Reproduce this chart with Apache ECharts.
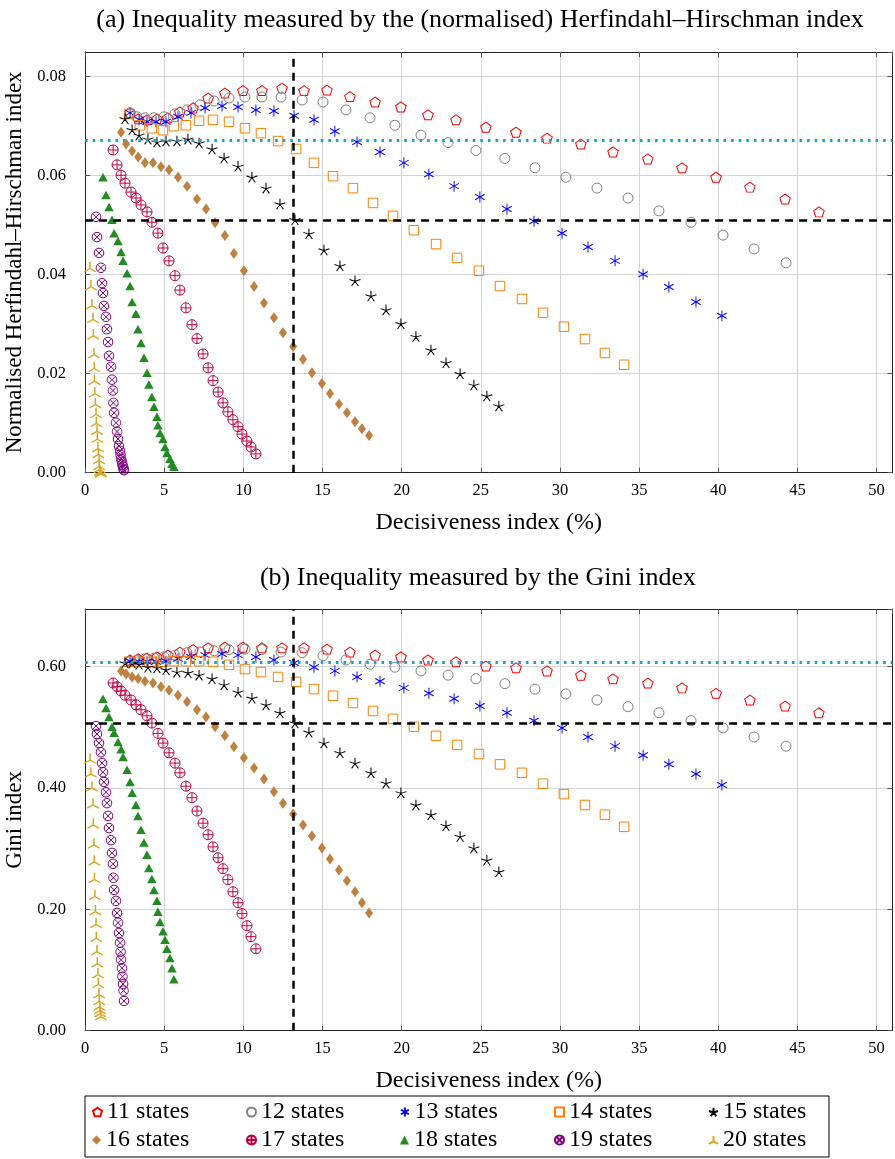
<!DOCTYPE html>
<html>
<head>
<meta charset="utf-8">
<script src="https://cdn.jsdelivr.net/npm/echarts@6/dist/echarts.min.js"></script>
<style>
  html, body { margin: 0; padding: 0; background: #fff; }
  #chart { width: 895px; height: 1159px; }
</style>
</head>
<body>
<div id="chart"></div>
<script>
// decisiveness index (%), normalised HHI and Gini, one set per number of states
const dec11 = [2.84, 3.35, 3.91, 4.54, 5.23, 5.99, 6.82, 7.77, 8.83, 9.97, 11.17, 12.44, 13.83, 15.28, 16.73, 18.32, 19.95, 21.66, 23.43, 25.32, 27.22, 29.18, 31.32, 33.35, 35.55, 37.71, 39.86, 42.00, 44.22, 46.36];
const hhi11 = [0.0727, 0.0715, 0.0713, 0.0715, 0.0717, 0.0729, 0.0737, 0.0757, 0.0767, 0.0772, 0.0772, 0.0777, 0.0772, 0.0773, 0.0760, 0.0749, 0.0739, 0.0723, 0.0713, 0.0698, 0.0688, 0.0676, 0.0664, 0.0648, 0.0634, 0.0616, 0.0597, 0.0577, 0.0553, 0.0527];
const gini11 = [0.611, 0.613, 0.614, 0.616, 0.619, 0.624, 0.628, 0.631, 0.632, 0.632, 0.631, 0.631, 0.631, 0.629, 0.624, 0.619, 0.616, 0.611, 0.608, 0.601, 0.598, 0.593, 0.586, 0.580, 0.573, 0.565, 0.556, 0.545, 0.535, 0.524];

const dec12 = [2.84, 3.28, 3.78, 4.35, 4.98, 5.68, 6.44, 7.26, 8.15, 9.09, 10.10, 11.17, 12.38, 13.71, 15.03, 16.48, 18.00, 19.57, 21.22, 22.93, 24.69, 26.52, 28.42, 30.37, 32.34, 34.30, 36.25, 38.28, 40.30, 42.26, 44.28];
const hhi12 = [0.0727, 0.0719, 0.0717, 0.0717, 0.0719, 0.0725, 0.0733, 0.0743, 0.0751, 0.0757, 0.0759, 0.0759, 0.0759, 0.0753, 0.0749, 0.0733, 0.0717, 0.0702, 0.0682, 0.0667, 0.0651, 0.0635, 0.0616, 0.0597, 0.0575, 0.0555, 0.0529, 0.0506, 0.0480, 0.0452, 0.0424];
const gini12 = [0.609, 0.611, 0.613, 0.614, 0.616, 0.619, 0.623, 0.624, 0.626, 0.628, 0.629, 0.628, 0.624, 0.623, 0.618, 0.611, 0.604, 0.599, 0.593, 0.586, 0.580, 0.572, 0.563, 0.555, 0.545, 0.534, 0.524, 0.511, 0.499, 0.484, 0.469];

const dec13 = [2.84, 3.41, 3.91, 4.48, 5.11, 5.87, 6.69, 7.58, 8.65, 9.66, 10.79, 11.93, 13.20, 14.46, 15.78, 17.18, 18.63, 20.14, 21.72, 23.31, 24.94, 26.65, 28.36, 30.13, 31.77, 33.48, 35.25, 36.88, 38.59, 40.23];
const hhi13 = [0.0727, 0.0713, 0.0709, 0.0709, 0.0709, 0.0719, 0.0727, 0.0737, 0.0741, 0.0739, 0.0733, 0.0731, 0.0721, 0.0713, 0.0690, 0.0668, 0.0648, 0.0626, 0.0603, 0.0579, 0.0557, 0.0533, 0.0508, 0.0484, 0.0456, 0.0428, 0.0401, 0.0375, 0.0345, 0.0317];
const gini13 = [0.609, 0.608, 0.608, 0.608, 0.609, 0.613, 0.616, 0.619, 0.621, 0.619, 0.616, 0.611, 0.606, 0.599, 0.593, 0.583, 0.576, 0.565, 0.556, 0.547, 0.535, 0.524, 0.511, 0.499, 0.484, 0.469, 0.454, 0.439, 0.423, 0.405];

const dec14 = [2.78, 3.46, 4.22, 4.92, 5.61, 6.37, 7.20, 8.08, 9.09, 10.10, 11.11, 12.19, 13.33, 14.46, 15.66, 16.92, 18.19, 19.45, 20.77, 22.17, 23.50, 24.88, 26.21, 27.60, 28.93, 30.25, 31.58, 32.84, 34.05];
const hhi14 = [0.0725, 0.0702, 0.0696, 0.0692, 0.0700, 0.0702, 0.0711, 0.0713, 0.0709, 0.0696, 0.0686, 0.0670, 0.0654, 0.0626, 0.0599, 0.0575, 0.0545, 0.0519, 0.0490, 0.0462, 0.0434, 0.0408, 0.0377, 0.0351, 0.0323, 0.0295, 0.0270, 0.0242, 0.0218];
const gini14 = [0.608, 0.608, 0.608, 0.608, 0.609, 0.609, 0.609, 0.608, 0.603, 0.596, 0.591, 0.583, 0.575, 0.563, 0.552, 0.540, 0.527, 0.514, 0.501, 0.486, 0.471, 0.456, 0.439, 0.425, 0.407, 0.390, 0.372, 0.356, 0.336];

const dec15 = [2.52, 2.97, 3.41, 3.97, 4.54, 5.11, 5.80, 6.50, 7.20, 8.02, 8.78, 9.66, 10.54, 11.43, 12.31, 13.26, 14.14, 15.09, 16.10, 17.05, 18.06, 19.01, 19.95, 20.90, 21.85, 22.80, 23.69, 24.56, 25.38, 26.14];
const hhi15 = [0.0715, 0.0693, 0.0682, 0.0674, 0.0668, 0.0670, 0.0670, 0.0674, 0.0666, 0.0654, 0.0636, 0.0619, 0.0597, 0.0575, 0.0543, 0.0511, 0.0483, 0.0450, 0.0418, 0.0388, 0.0357, 0.0329, 0.0301, 0.0275, 0.0248, 0.0222, 0.0200, 0.0177, 0.0155, 0.0135];
const gini15 = [0.606, 0.606, 0.604, 0.599, 0.598, 0.595, 0.591, 0.590, 0.586, 0.580, 0.570, 0.558, 0.548, 0.537, 0.524, 0.507, 0.492, 0.474, 0.458, 0.441, 0.425, 0.408, 0.392, 0.372, 0.356, 0.338, 0.320, 0.301, 0.281, 0.262];

const dec16 = [2.27, 2.59, 2.97, 3.35, 3.78, 4.29, 4.79, 5.30, 5.87, 6.44, 7.07, 7.64, 8.21, 8.83, 9.40, 10.03, 10.67, 11.30, 11.93, 12.50, 13.14, 13.77, 14.33, 14.96, 15.47, 16.04, 16.54, 17.05, 17.49, 17.94];
const hhi16 = [0.0688, 0.0664, 0.0650, 0.0638, 0.0626, 0.0626, 0.0618, 0.0612, 0.0597, 0.0579, 0.0553, 0.0533, 0.0505, 0.0479, 0.0443, 0.0408, 0.0376, 0.0343, 0.0313, 0.0283, 0.0255, 0.0229, 0.0202, 0.0180, 0.0160, 0.0139, 0.0121, 0.0103, 0.0089, 0.0075];
const gini16 = [0.593, 0.588, 0.583, 0.580, 0.576, 0.573, 0.567, 0.561, 0.553, 0.542, 0.529, 0.517, 0.501, 0.486, 0.468, 0.450, 0.433, 0.415, 0.394, 0.375, 0.357, 0.339, 0.321, 0.301, 0.283, 0.265, 0.247, 0.229, 0.211, 0.194];

const dec17 = [1.77, 2.02, 2.27, 2.52, 2.90, 3.22, 3.53, 3.91, 4.22, 4.60, 4.92, 5.30, 5.68, 5.99, 6.37, 6.75, 7.07, 7.45, 7.77, 8.08, 8.40, 8.71, 9.02, 9.34, 9.66, 9.91, 10.22, 10.48, 10.79];
const hhi17 = [0.0652, 0.0622, 0.0601, 0.0585, 0.0567, 0.0555, 0.0541, 0.0527, 0.0506, 0.0484, 0.0454, 0.0428, 0.0398, 0.0369, 0.0333, 0.0299, 0.0271, 0.0240, 0.0212, 0.0186, 0.0163, 0.0141, 0.0123, 0.0107, 0.0093, 0.0078, 0.0064, 0.0052, 0.0038];
const gini17 = [0.573, 0.567, 0.560, 0.553, 0.545, 0.537, 0.529, 0.519, 0.507, 0.490, 0.474, 0.458, 0.441, 0.425, 0.403, 0.384, 0.362, 0.342, 0.323, 0.303, 0.285, 0.267, 0.249, 0.229, 0.211, 0.193, 0.173, 0.155, 0.135];

const dec18 = [1.13, 1.32, 1.51, 1.70, 1.83, 2.08, 2.27, 2.40, 2.65, 2.84, 2.97, 3.21, 3.34, 3.53, 3.72, 3.91, 4.03, 4.22, 4.35, 4.54, 4.60, 4.73, 4.92, 5.05, 5.17, 5.36, 5.49, 5.61];
const hhi18 = [0.0597, 0.0561, 0.0537, 0.0511, 0.0484, 0.0468, 0.0446, 0.0428, 0.0403, 0.0377, 0.0345, 0.0321, 0.0290, 0.0262, 0.0232, 0.0202, 0.0178, 0.0153, 0.0133, 0.0113, 0.0096, 0.0080, 0.0068, 0.0052, 0.0040, 0.0028, 0.0018, 0.0012];
const gini18 = [0.547, 0.532, 0.517, 0.501, 0.491, 0.476, 0.464, 0.451, 0.430, 0.410, 0.392, 0.372, 0.354, 0.331, 0.310, 0.290, 0.268, 0.250, 0.232, 0.214, 0.196, 0.179, 0.164, 0.150, 0.135, 0.120, 0.103, 0.085];

const dec19 = [0.69, 0.75, 0.88, 1.00, 1.07, 1.13, 1.19, 1.32, 1.38, 1.45, 1.51, 1.64, 1.70, 1.76, 1.79, 1.83, 1.95, 2.02, 2.08, 2.14, 2.21, 2.24, 2.27, 2.33, 2.36, 2.40, 2.43, 2.46];
const hhi19 = [0.0517, 0.0476, 0.0444, 0.0414, 0.0383, 0.0363, 0.0337, 0.0315, 0.0290, 0.0264, 0.0236, 0.0214, 0.0188, 0.0166, 0.0141, 0.0121, 0.0101, 0.0083, 0.0068, 0.0054, 0.0044, 0.0036, 0.0028, 0.0022, 0.0016, 0.0012, 0.0007, 0.0005];
const gini19 = [0.502, 0.489, 0.474, 0.459, 0.441, 0.426, 0.410, 0.393, 0.375, 0.354, 0.334, 0.314, 0.293, 0.275, 0.252, 0.232, 0.214, 0.194, 0.178, 0.161, 0.145, 0.130, 0.117, 0.103, 0.089, 0.077, 0.066, 0.049];

const dec20 = [0.31, 0.37, 0.43, 0.50, 0.52, 0.56, 0.58, 0.59, 0.62, 0.65, 0.69, 0.71, 0.75, 0.77, 0.81, 0.83, 0.88, 0.89, 0.91, 0.94, 0.96, 1.00];
const hhi20 = [0.0416, 0.0379, 0.0341, 0.0313, 0.0280, 0.0242, 0.0214, 0.0188, 0.0163, 0.0141, 0.0121, 0.0103, 0.0087, 0.0071, 0.0052, 0.0040, 0.0028, 0.0016, 0.0010, 0.0005, 0.0003, 0.0001];
const gini20 = [0.449, 0.426, 0.403, 0.375, 0.342, 0.309, 0.281, 0.252, 0.224, 0.199, 0.178, 0.155, 0.133, 0.113, 0.095, 0.079, 0.062, 0.051, 0.042, 0.036, 0.031, 0.026];

// reference lines
const refDec = 13.13;
const refHhiBlack = 0.0511, refHhiCyan = 0.0672;
const refGiniBlack = 0.507, refGiniCyan = 0.607;

const xTickStep = 5;
const hhiTickStep = 0.02;
const giniTickStep = 0.2;

// marker shapes (pgfplots-like)
const ring = (function () {
  let s = '';
  for (let i = 0; i < 28; i++) {
    const a = i / 28 * 2 * Math.PI;
    s += (i ? 'L' : 'M') + Math.cos(a).toFixed(3) + ',' + Math.sin(a).toFixed(3);
  }
  return s + 'Z';
})();
const marks = {
  pentagon: 'path://M0,-1L0.951,-0.309L0.588,0.809L-0.588,0.809L-0.951,-0.309Z',
  asterisk: 'path://M0,-1L0,1M-0.866,-0.5L0.866,0.5M-0.866,0.5L0.866,-0.5',
  star: 'path://M0,0L0,-1M0,0L0.951,-0.309M0,0L0.588,0.809M0,0L-0.588,0.809M0,0L-0.951,-0.309',
  oplus: 'path://' + ring + 'M-1,0L1,0M0,-1L0,1',
  otimes: 'path://' + ring + 'M-0.707,-0.707L0.707,0.707M-0.707,0.707L0.707,-0.707',
  tri: 'path://M0,0L0,-1M0,0L-0.866,0.5M0,0L0.866,0.5'
};

const groups = [
  { name: '11 states', dec: dec11, hhi: hhi11, gini: gini11, symbol: marks.pentagon, size: [10.5, 10], color: '#ff0000', fill: false, lw: 1 },
  { name: '12 states', dec: dec12, hhi: hhi12, gini: gini12, symbol: 'circle', size: 10, color: '#808080', fill: false, lw: 1 },
  { name: '13 states', dec: dec13, hhi: hhi13, gini: gini13, symbol: marks.asterisk, size: [9.5, 11], color: '#0000ff', fill: false, lw: 1 },
  { name: '14 states', dec: dec14, hhi: hhi14, gini: gini14, symbol: 'rect', size: 9.5, color: '#ff8000', fill: false, lw: 1 },
  { name: '15 states', dec: dec15, hhi: hhi15, gini: gini15, symbol: marks.star, size: [11, 10.5], color: '#000000', fill: false, lw: 1 },
  { name: '16 states', dec: dec16, hhi: hhi16, gini: gini16, symbol: 'diamond', size: [8, 11], color: '#bf8040', fill: true, lw: 0 },
  { name: '17 states', dec: dec17, hhi: hhi17, gini: gini17, symbol: marks.oplus, size: 10, color: '#bf0040', fill: false, lw: 1 },
  { name: '18 states', dec: dec18, hhi: hhi18, gini: gini18, symbol: 'triangle', size: [9.5, 8.5], color: '#228b22', fill: true, lw: 0 },
  { name: '19 states', dec: dec19, hhi: hhi19, gini: gini19, symbol: marks.otimes, size: 9.5, color: '#800080', fill: false, lw: 1 },
  { name: '20 states', dec: dec20, hhi: hhi20, gini: gini20, symbol: marks.tri, size: [11.5, 10], color: '#daa520', fill: false, lw: 1.4 }
];

const FONT = 'Liberation Serif';
const tickFont = { fontFamily: FONT, fontSize: 16.5, color: '#000' };
const nameFont = { fontFamily: FONT, fontSize: 24, color: '#000' };
const yNameFont = { fontFamily: FONT, fontSize: 23, color: '#000' };

function mainX(gridIndex) {
  return {
    type: 'value', gridIndex: gridIndex, min: 0, max: 51, interval: xTickStep,
    name: 'Decisiveness index (%)', nameLocation: 'middle', nameGap: 38, nameTextStyle: nameFont,
    axisLine: { show: true, onZero: false, lineStyle: { color: '#222', width: 1 } },
    axisTick: { show: true, inside: true, length: 5, lineStyle: { color: '#555' } },
    axisLabel: { margin: 9, showMaxLabel: false, ...tickFont },
    splitLine: { show: true, lineStyle: { color: '#d4d4d4', width: 1 } }
  };
}
function mirrorX(gridIndex) {
  return {
    type: 'value', gridIndex: gridIndex, position: 'top', min: 0, max: 51, interval: xTickStep,
    axisLine: { show: true, onZero: false, lineStyle: { color: '#222', width: 1 } },
    axisTick: { show: true, inside: true, length: 5, lineStyle: { color: '#555' } },
    axisLabel: { show: false }, splitLine: { show: false }
  };
}
function mainY(gridIndex, max, step, name) {
  return {
    type: 'value', gridIndex: gridIndex, min: 0, max: max, interval: step,
    name: name, nameLocation: 'middle', nameGap: 52, nameTextStyle: yNameFont,
    axisLine: { show: true, onZero: false, lineStyle: { color: '#222', width: 1 } },
    axisTick: { show: true, inside: true, length: 5, lineStyle: { color: '#555' } },
    axisLabel: { margin: 19, showMaxLabel: false, formatter: v => v.toFixed(2), ...tickFont },
    splitLine: { show: true, lineStyle: { color: '#d4d4d4', width: 1 } }
  };
}
function mirrorY(gridIndex, max, step) {
  return {
    type: 'value', gridIndex: gridIndex, position: 'right', min: 0, max: max, interval: step,
    axisLine: { show: true, onZero: false, lineStyle: { color: '#222', width: 1 } },
    axisTick: { show: true, inside: true, length: 5, lineStyle: { color: '#555' } },
    axisLabel: { show: false }, splitLine: { show: false }
  };
}

const series = [];
groups.forEach(function (g) {
  const style = g.fill
    ? { color: g.color, borderWidth: 0, opacity: 1 }
    : { color: 'rgba(0,0,0,0)', borderColor: g.color, borderWidth: g.lw, opacity: 1 };
  [0, 1].forEach(function (k) {
    const ys = k === 0 ? g.hhi : g.gini;
    series.push({
      type: 'scatter', name: g.name, xAxisIndex: k * 2, yAxisIndex: k * 2,
      data: g.dec.map((x, i) => [x, ys[i]]),
      symbol: g.symbol, symbolSize: g.size, itemStyle: style,
      silent: true, emphasis: { disabled: true }
    });
  });
});

function refLines(k, yBlack, yCyan) {
  return {
    type: 'line', xAxisIndex: k * 2, yAxisIndex: k * 2, data: [], silent: true, z: 5,
    markLine: {
      silent: true, symbol: 'none', animation: false, precision: 5, label: { show: false },
      data: [
        { xAxis: refDec, lineStyle: { color: '#000', width: 2.5, type: [8, 6] } },
        { yAxis: yBlack, lineStyle: { color: '#000', width: 2.5, type: [8, 6] } },
        { yAxis: yCyan, lineStyle: { color: '#19a0d4', width: 3, type: [2.6, 5] } }
      ]
    }
  };
}
series.push(refLines(0, refHhiBlack, refHhiCyan));
series.push(refLines(1, refGiniBlack, refGiniCyan));

// legend: two rows of five
const colCenters = [97, 251, 405, 559, 713];
const rowCenters = [1113, 1141];
const legends = groups.map(function (g, i) {
  return {
    data: [g.name], left: colCenters[i % 5] - 5, top: rowCenters[Math.floor(i / 5)] - 13,
    padding: 0, itemWidth: 9, itemHeight: 9, itemGap: 0, selectedMode: false,
    textStyle: { fontFamily: FONT, fontSize: 24, color: '#000' }
  };
});

const chart = echarts.init(document.getElementById('chart'), null, { renderer: 'canvas' });
chart.setOption({
  animation: false,
  backgroundColor: '#fff',
  grid: [
    { left: 85.1, top: 52, width: 807.3, height: 420.7, outerBoundsMode: 'none', containLabel: false },
    { left: 85.1, top: 609, width: 807.3, height: 421.7, outerBoundsMode: 'none', containLabel: false }
  ],
  xAxis: [mainX(0), mirrorX(0), mainX(1), mirrorX(1)],
  yAxis: [
    mainY(0, 0.085, hhiTickStep, 'Normalised Herfindahl–Hirschman index'), mirrorY(0, 0.085, hhiTickStep),
    mainY(1, 0.695, giniTickStep, 'Gini index'), mirrorY(1, 0.695, giniTickStep)
  ],
  legend: legends,
  series: series,
  graphic: [
    { type: 'text', x: 480, y: 20, style: { text: '(a) Inequality measured by the (normalised) Herfindahl–Hirschman index', font: '26px "' + FONT + '"', fill: '#000', textAlign: 'center', textVerticalAlign: 'middle' } },
    { type: 'text', x: 478, y: 578, style: { text: '(b) Inequality measured by the Gini index', font: '26px "' + FONT + '"', fill: '#000', textAlign: 'center', textVerticalAlign: 'middle' } },
    { type: 'rect', shape: { x: 85, y: 1096, width: 744, height: 61 }, style: { fill: 'none', stroke: '#000', lineWidth: 1 }, silent: true }
  ]
});
</script>
</body>
</html>
